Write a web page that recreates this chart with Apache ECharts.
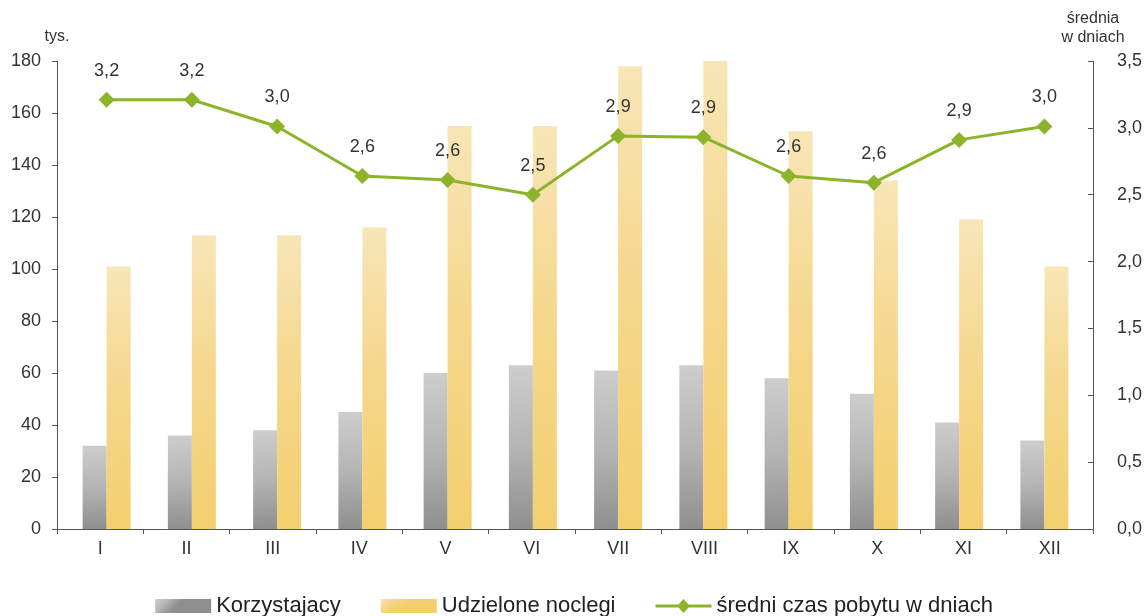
<!DOCTYPE html>
<html>
<head>
<meta charset="utf-8">
<script src="https://cdn.jsdelivr.net/npm/echarts@6/dist/echarts.min.js"></script>
<style>
  html, body { margin: 0; padding: 0; background: #fff; }
  #chart { width: 1148px; height: 616px; }
</style>
</head>
<body>
<div id="chart"></div>
<script>
// dane
const months = ['I', 'II', 'III', 'IV', 'V', 'VI', 'VII', 'VIII', 'IX', 'X', 'XI', 'XII'];
const korzystajacy = [32, 36, 38, 45, 60, 63, 61, 63, 58, 52, 41, 34];
const noclegi = [101, 113, 113, 116, 155, 155, 178, 181, 153, 134, 119, 101];
const sredniCzas = [3.21, 3.21, 3.01, 2.64, 2.61, 2.5, 2.94, 2.93, 2.64, 2.59, 2.91, 3.01];

const textColor = '#333';
const axisColor = '#555';
const font = 'Liberation Sans, Arial, sans-serif';
const comma = (v) => v.toFixed(1).replace('.', ',');

const chart = echarts.init(document.getElementById('chart'));

// grid 0 = widoczne osie, grid 1 = dane (w oryginale lekko przesunięte)
const option = {
  animation: false,
  textStyle: { fontFamily: font },
  grid: [
    { left: 57, right: 55, top: 61, bottom: 87 },
    { left: 64, right: 61, top: 61, bottom: 87 },
  ],
  legend: {
    top: 595,
    left: 'center',
    padding: 0,
    itemWidth: 56,
    itemHeight: 14,
    itemGap: 40,
    textStyle: { fontSize: 22, color: '#222', fontFamily: font },
    data: [
      { name: 'Korzystajacy', icon: 'rect' },
      { name: 'Udzielone noclegi', icon: 'rect' },
      {
        name: 'średni czas pobytu w dniach',
        icon: 'path://M0,5.5H23L28,0L33,5.5H56V8.5H33L28,14L23,8.5H0Z',
      },
    ],
  },
  xAxis: [
    {
      type: 'category',
      gridIndex: 0,
      data: months,
      boundaryGap: true,
      axisLine: { lineStyle: { color: axisColor } },
      axisTick: { show: true, length: 5, lineStyle: { color: axisColor } },
      axisLabel: { color: textColor, fontSize: 18, margin: 11 },
    },
    {
      type: 'category',
      gridIndex: 1,
      data: months,
      show: false,
    },
  ],
  yAxis: [
    {
      type: 'value',
      gridIndex: 0,
      min: 0,
      max: 180,
      interval: 20,
      name: 'tys.',
      nameLocation: 'end',
      nameGap: 16,
      nameTextStyle: { color: textColor, fontSize: 16, align: 'center' },
      splitLine: { show: false },
      axisLine: { show: true, lineStyle: { color: axisColor } },
      axisTick: { show: true, length: 5, lineStyle: { color: axisColor } },
      axisLabel: { color: textColor, fontSize: 18, margin: 16 },
    },
    {
      type: 'value',
      gridIndex: 0,
      min: 0,
      max: 3.5,
      interval: 0.5,
      position: 'right',
      name: 'średnia\nw dniach',
      nameLocation: 'end',
      nameGap: 14,
      nameTextStyle: { color: textColor, fontSize: 16, lineHeight: 19, align: 'center' },
      splitLine: { show: false },
      axisLine: { show: true, lineStyle: { color: axisColor } },
      axisTick: { show: true, inside: true, length: 5, lineStyle: { color: axisColor } },
      axisLabel: { color: textColor, fontSize: 18, margin: 24, formatter: comma },
    },
    { type: 'value', gridIndex: 1, min: 0, max: 180, show: false, splitLine: { show: false } },
    { type: 'value', gridIndex: 1, min: 0, max: 3.5, show: false, splitLine: { show: false } },
  ],
  series: [
    {
      name: 'Korzystajacy',
      type: 'bar',
      xAxisIndex: 1,
      yAxisIndex: 2,
      barWidth: 24,
      barGap: '0%',
      itemStyle: {
        color: new echarts.graphic.LinearGradient(0, 0, 0.25, 1, [
          { offset: 0, color: '#cdcdcd' },
          { offset: 0.5, color: '#b5b5b5' },
          { offset: 1, color: '#8f8f8f' },
        ]),
      },
      data: korzystajacy,
    },
    {
      name: 'Udzielone noclegi',
      type: 'bar',
      xAxisIndex: 1,
      yAxisIndex: 2,
      barWidth: 24,
      barGap: '0%',
      itemStyle: {
        color: new echarts.graphic.LinearGradient(0, 0, 0.2, 1, [
          { offset: 0, color: '#f8e6b8' },
          { offset: 0.45, color: '#f5d88e' },
          { offset: 1, color: '#f3cf6e' },
        ]),
      },
      data: noclegi,
    },
    {
      name: 'średni czas pobytu w dniach',
      type: 'line',
      xAxisIndex: 1,
      yAxisIndex: 3,
      symbol: 'diamond',
      symbolSize: 16,
      lineStyle: { color: '#8db32b', width: 3 },
      itemStyle: { color: '#8db32b' },
      label: {
        show: true,
        position: 'top',
        distance: 12,
        color: textColor,
        fontSize: 18,
        formatter: (p) => comma(p.value),
      },
      data: sredniCzas,
    },
  ],
};

chart.setOption(option);
</script>
</body>
</html>
